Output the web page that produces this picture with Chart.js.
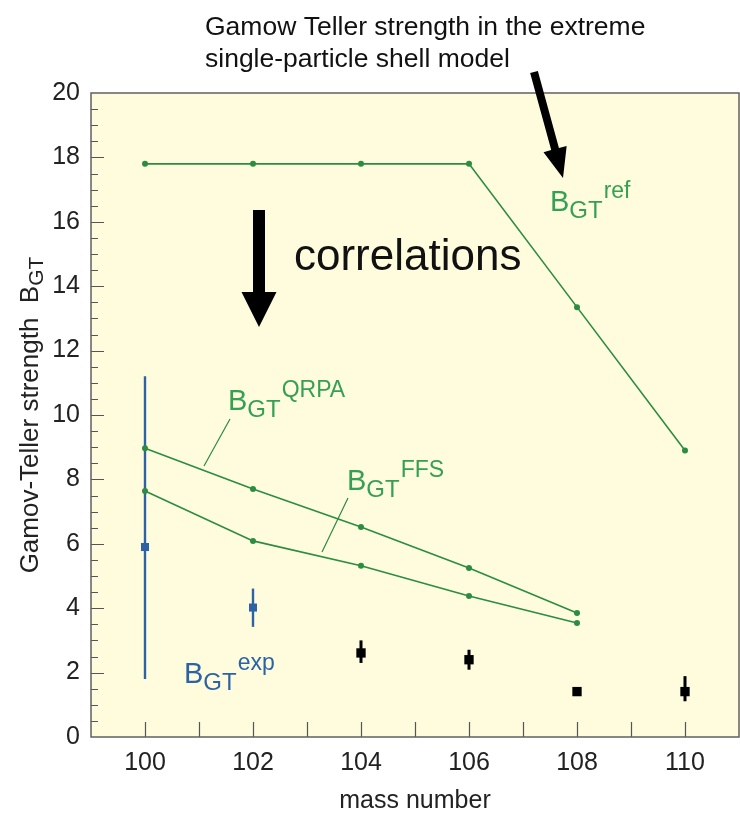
<!DOCTYPE html>
<html>
<head>
<meta charset="utf-8">
<script src="https://cdn.jsdelivr.net/npm/chart.js@4/dist/chart.umd.min.js"></script>
<style>
	html, body { margin: 0; padding: 0; background: #ffffff; }
	canvas { display: block; }
</style>
</head>
<body>
<canvas id="chart" width="740" height="822"></canvas>
<script>
// mass numbers and strengths
const refMass = [100, 102, 104, 106, 108, 110];
const refStrength = [17.8, 17.8, 17.8, 17.8, 13.35, 8.9];

const calcMass = [100, 102, 104, 106, 108];
const qrpaStrength = [8.97, 7.7, 6.52, 5.25, 3.85];
const ffsStrength = [7.64, 6.09, 5.32, 4.38, 3.54];

const expBlueMass = [100, 102];
const expBlueStrength = [5.9, 4.02];
const expBlueLow = [1.8, 3.42];
const expBlueHigh = [11.2, 4.61];

const expBlackMass = [104, 106, 108, 110];
const expBlackStrength = [2.61, 2.4, 1.41, 1.41];
const expBlackLow = [2.3, 2.09, 1.41, 1.11];
const expBlackHigh = [3.0, 2.71, 1.41, 1.89];

const xTickLabels = [100, 102, 104, 106, 108, 110];
const yTickLabels = [0, 2, 4, 6, 8, 10, 12, 14, 16, 18, 20];

const GREEN_LINE = "#2b8c42";
const GREEN_TEXT = "#35a055";
const BLUE = "#2d63a6";
const FONT = '"Liberation Sans", Arial, sans-serif';

const toPoints = (xs, ys) => xs.map((x, i) => ({ x, y: ys[i] }));

const lineSet = (label, xs, ys) => ({
	label,
	data: toPoints(xs, ys),
	borderColor: GREEN_LINE,
	backgroundColor: GREEN_LINE,
	borderWidth: 1.6,
	pointRadius: 3,
	pointBorderWidth: 0,
	showLine: true,
	tension: 0,
});

const markSet = (label, xs, ys, color, radius) => ({
	label,
	data: toPoints(xs, ys),
	borderColor: color,
	backgroundColor: color,
	pointStyle: "rect",
	pointRadius: radius,
	pointBorderWidth: 0,
	showLine: false,
	errLow: null,
	errHigh: null,
});

const blueSet = markSet("exp (blue)", expBlueMass, expBlueStrength, BLUE, 5.7);
blueSet.errLow = expBlueLow;
blueSet.errHigh = expBlueHigh;
blueSet.errWidth = 2.4;
const blackSet = markSet("exp", expBlackMass, expBlackStrength, "#000000", 6.6);
blackSet.errLow = expBlackLow;
blackSet.errHigh = expBlackHigh;
blackSet.errWidth = 3;

// B_GT with subscript + superscript
function drawBgt(ctx, x, y, sup, color) {
	ctx.save();
	ctx.fillStyle = color;
	ctx.textAlign = "left";
	ctx.textBaseline = "alphabetic";
	ctx.font = `29px ${FONT}`;
	ctx.fillText("B", x, y);
	x += ctx.measureText("B").width;
	ctx.font = `24px ${FONT}`;
	ctx.fillText("GT", x, y + 7);
	x += ctx.measureText("GT").width + 1;
	ctx.font = `23px ${FONT}`;
	ctx.fillText(sup, x, y - 13);
	ctx.restore();
}

function arrow(ctx, x0, y0, x1, y1, shaftW, headL, headW) {
	const dx = x1 - x0, dy = y1 - y0;
	const len = Math.hypot(dx, dy);
	const ux = dx / len, uy = dy / len;
	const px = -uy, py = ux;
	const bx = x1 - ux * headL, by = y1 - uy * headL;
	ctx.beginPath();
	ctx.moveTo(x0 + px * shaftW / 2, y0 + py * shaftW / 2);
	ctx.lineTo(bx + px * shaftW / 2, by + py * shaftW / 2);
	ctx.lineTo(bx + px * headW / 2, by + py * headW / 2);
	ctx.lineTo(x1, y1);
	ctx.lineTo(bx - px * headW / 2, by - py * headW / 2);
	ctx.lineTo(bx - px * shaftW / 2, by - py * shaftW / 2);
	ctx.lineTo(x0 - px * shaftW / 2, y0 - py * shaftW / 2);
	ctx.closePath();
	ctx.fill();
}

const frame = {
	id: "frame",
	beforeDraw(chart) {
		const { ctx, chartArea: a } = chart;
		ctx.save();
		ctx.fillStyle = "#fefcdc";
		ctx.fillRect(a.left, a.top, a.right - a.left, a.bottom - a.top);
		ctx.restore();
	},
	beforeDatasetsDraw(chart) {
		// error bars behind the markers
		const { ctx } = chart;
		const yS = chart.scales.y, xS = chart.scales.x;
		chart.data.datasets.forEach((ds) => {
			if (!ds.errLow) return;
			ctx.save();
			ctx.strokeStyle = ds.borderColor;
			ctx.lineWidth = ds.errWidth;
			ds.data.forEach((p, i) => {
				if (ds.errHigh[i] === ds.errLow[i]) return;
				const px = xS.getPixelForValue(p.x);
				ctx.beginPath();
				ctx.moveTo(px, yS.getPixelForValue(ds.errLow[i]));
				ctx.lineTo(px, yS.getPixelForValue(ds.errHigh[i]));
				ctx.stroke();
			});
			ctx.restore();
		});
	},
	afterDraw(chart) {
		const { ctx, chartArea: a } = chart;
		const xS = chart.scales.x, yS = chart.scales.y;
		ctx.save();
		// inward ticks
		ctx.strokeStyle = "#555555";
		ctx.lineWidth = 1.2;
		ctx.beginPath();
		for (let v = 0.5; v < 20; v += 0.5) {
			const py = Math.round(yS.getPixelForValue(v)) + 0.5;
			const len = v % 2 === 0 ? 13 : 7;
			ctx.moveTo(a.left, py);
			ctx.lineTo(a.left + len, py);
		}
		for (let v = 100; v <= 110; v += 1) {
			const px = Math.round(xS.getPixelForValue(v)) + 0.5;
			ctx.moveTo(px, a.bottom);
			ctx.lineTo(px, a.bottom - 15);
		}
		ctx.stroke();
		// plot frame
		ctx.strokeStyle = "#606060";
		ctx.lineWidth = 1.5;
		ctx.strokeRect(a.left, a.top, a.right - a.left, a.bottom - a.top);

		// y axis title, rotated, with subscript
		ctx.translate(30, (a.top + a.bottom) / 2);
		ctx.rotate(-Math.PI / 2);
		ctx.fillStyle = "#222222";
		ctx.textBaseline = "alphabetic";
		ctx.font = `26px ${FONT}`;
		const main = "Gamov-Teller strength  B";
		const w1 = ctx.measureText(main).width;
		ctx.font = `21px ${FONT}`;
		const w2 = ctx.measureText("GT").width;
		const start = -(w1 + w2) / 2;
		ctx.font = `26px ${FONT}`;
		ctx.fillText(main, start, 8);
		ctx.font = `21px ${FONT}`;
		ctx.fillText("GT", start + w1, 13);
		ctx.restore();

		// annotations
		ctx.save();
		ctx.fillStyle = "#111111";
		ctx.font = `26.5px ${FONT}`;
		ctx.fillText("Gamow Teller strength in the extreme", 205, 35);
		ctx.fillText("single-particle shell model", 205, 67);
		ctx.font = `44px ${FONT}`;
		ctx.fillText("correlations", 294, 270);
		ctx.fillStyle = "#000000";
		arrow(ctx, 534, 72, 563, 178, 8, 30, 24);
		arrow(ctx, 259, 210, 259, 327, 12, 35, 35);

		drawBgt(ctx, 550, 211, "ref", GREEN_TEXT);
		drawBgt(ctx, 228, 410, "QRPA", GREEN_TEXT);
		drawBgt(ctx, 347, 490, "FFS", GREEN_TEXT);
		drawBgt(ctx, 184, 683, "exp", BLUE);

		ctx.strokeStyle = GREEN_LINE;
		ctx.lineWidth = 1.2;
		ctx.beginPath();
		ctx.moveTo(230, 419);
		ctx.lineTo(204, 466);
		ctx.moveTo(348, 498);
		ctx.lineTo(322, 552);
		ctx.stroke();
		ctx.restore();
	},
};

new Chart(document.getElementById("chart").getContext("2d"), {
	type: "scatter",
	data: {
		datasets: [
			lineSet("ref", refMass, refStrength),
			lineSet("QRPA", calcMass, qrpaStrength),
			lineSet("FFS", calcMass, ffsStrength),
			blueSet,
			blackSet,
		],
	},
	options: {
		responsive: false,
		animation: false,
		layout: { autoPadding: false, padding: { top: 93, right: 1, left: 0, bottom: 0 } },
		plugins: {
			legend: { display: false },
			tooltip: { enabled: false },
		},
		scales: {
			x: {
				type: "linear",
				min: 99,
				max: 111,
				grid: { display: false, drawTicks: false },
				border: { display: false },
				afterBuildTicks: (scale) => {
					scale.ticks = xTickLabels.map((value) => ({ value }));
				},
				afterFit: (scale) => {
					scale.height = 85;
					scale.paddingLeft = 0;
					scale.paddingRight = 0;
				},
				ticks: {
					padding: 11,
					color: "#222222",
					font: { family: FONT, size: 25 },
				},
				title: {
					display: true,
					text: "mass number",
					color: "#222222",
					font: { family: FONT, size: 25 },
					padding: { top: 0, bottom: 6 },
				},
			},
			y: {
				min: 0,
				max: 20,
				grid: { display: false, drawTicks: false },
				border: { display: false },
				afterBuildTicks: (scale) => {
					scale.ticks = yTickLabels.map((value) => ({ value }));
				},
				afterFit: (scale) => {
					scale.width = 91;
					scale.paddingTop = 0;
					scale.paddingBottom = 0;
				},
				ticks: {
					padding: 11,
					color: "#222222",
					font: { family: FONT, size: 25 },
				},
			},
		},
	},
	plugins: [frame],
});
</script>
</body>
</html>
